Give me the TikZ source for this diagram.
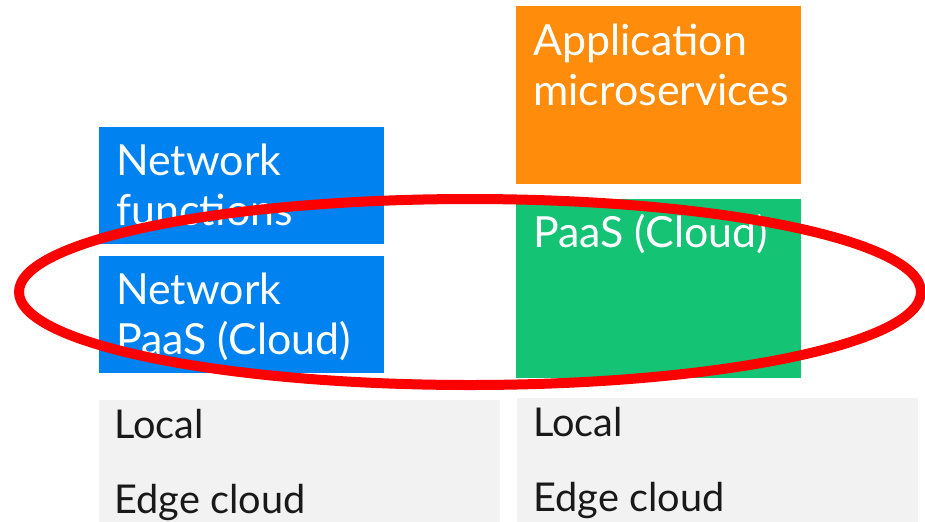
\documentclass[tikz,border=0pt]{standalone}
\usepackage{fontspec}
\setmainfont{Lato}
\usetikzlibrary{positioning}

\definecolor{nwblue}{RGB}{0,130,240}
\definecolor{apporange}{RGB}{255,140,10}
\definecolor{paasgreen}{RGB}{20,195,115}
\definecolor{edgegray}{RGB}{242,242,242}
\definecolor{markred}{RGB}{255,0,0}

\begin{document}
\begin{tikzpicture}[
    x=0.02cm, y=-0.02cm,
    box/.style={rectangle, draw=none, inner sep=0pt, anchor=north west},
    txt/.style={text=white, align=left, inner sep=0pt, anchor=base west,
                font=\fontsize{24.4pt}{28.4pt}\selectfont},
    edgetxt/.style={text=black!90, align=left, inner sep=0pt, anchor=base west,
                font=\fontsize{22.6pt}{42.5pt}\selectfont}
]
\useasboundingbox (0,0) rectangle (925,521);

% Left column - network side (base anchor sits on the last line)
\node[box, fill=nwblue, minimum width=285*0.02cm, minimum height=117*0.02cm] (nf) at (99,127) {};
\node[txt] (nftext) at ([shift={(17,98)}]nf.north west) {Network\\functions};

\node[box, fill=nwblue, minimum width=285*0.02cm, minimum height=117*0.02cm] (npaas) at (99,256) {};
\node[txt] (npaastext) at ([shift={(17,98)}]npaas.north west) {Network\\PaaS (Cloud)};

% Right column - application side
\node[box, fill=apporange, minimum width=285*0.02cm, minimum height=178*0.02cm] (app) at (516,6) {};
\node[txt] (apptext) at ([shift={(17,99)}]app.north west) {Application\\microservices};

\node[box, fill=paasgreen, minimum width=285*0.02cm, minimum height=179*0.02cm] (paas) at (516,199) {};
\node[txt] (paastext) at ([shift={(17,48)}]paas.north west) {PaaS (Cloud)};

% Edge cloud at the bottom
\node[box, fill=edgegray, minimum width=401*0.02cm, minimum height=130*0.02cm] (edgel) at (99,400) {};
\node[edgetxt] (edgeltext) at ([shift={(15,113)}]edgel.north west) {Local\\Edge cloud};

\node[box, fill=edgegray, minimum width=401*0.02cm, minimum height=130*0.02cm] (edger) at (517,398) {};
\node[edgetxt] (edgertext) at ([shift={(16,113)}]edger.north west) {Local\\Edge cloud};

% Red ring round the PaaS layer
\draw[markred, line width=10*0.02cm] (470,292) ellipse (451 and 93);

\end{tikzpicture}
\end{document}
